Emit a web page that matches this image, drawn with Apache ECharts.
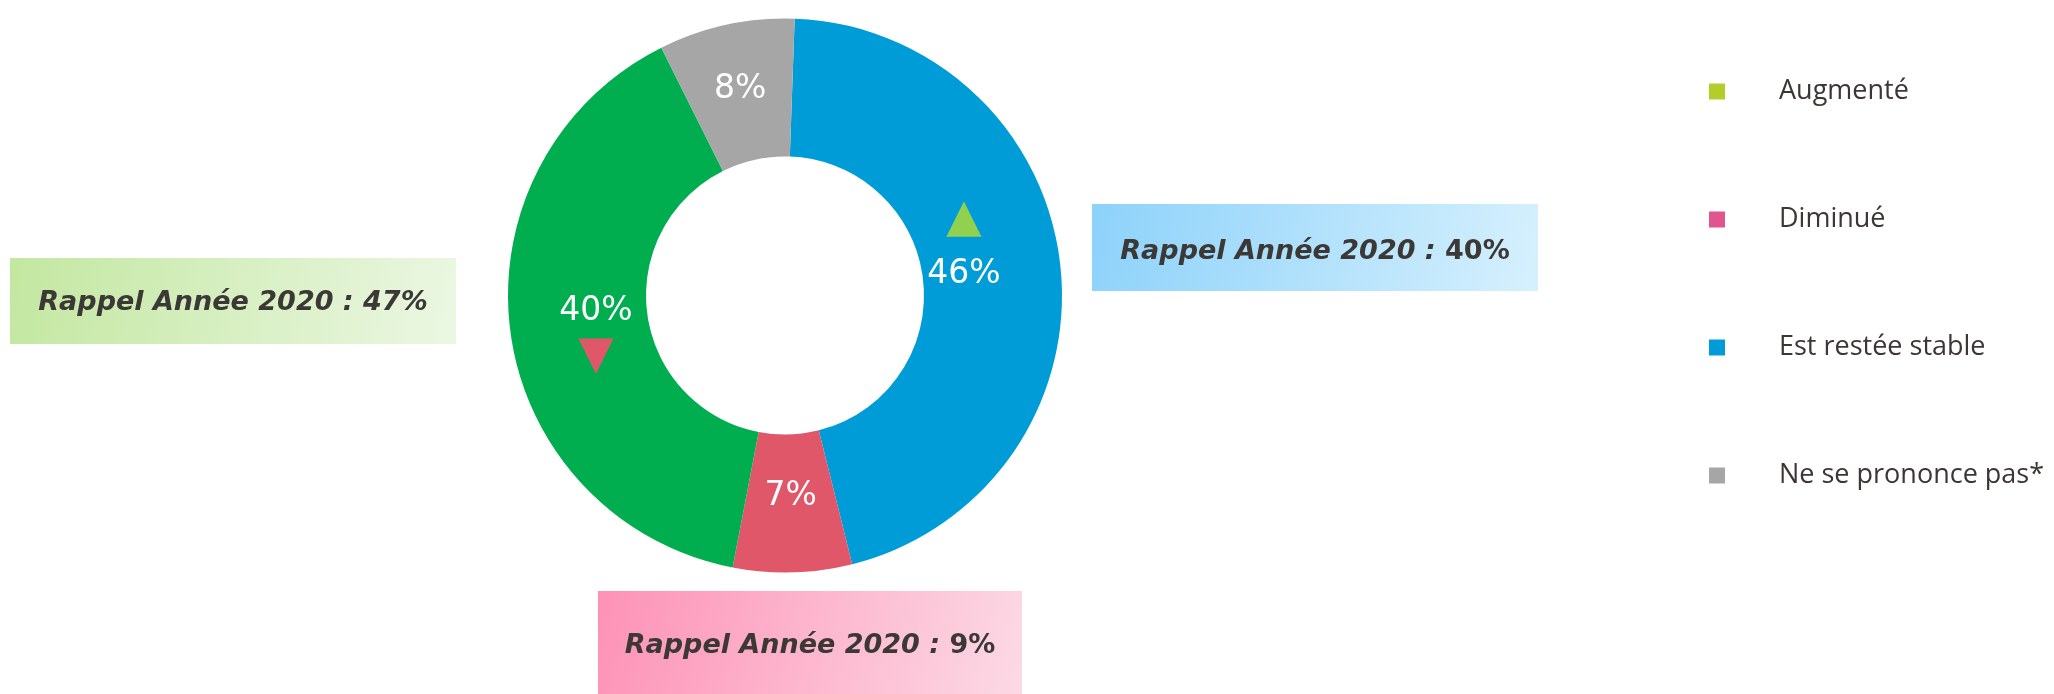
<!DOCTYPE html>
<html style="height: 100%">
<head>
<meta charset="utf-8">
</head>
<body style="height: 100%; margin: 0; background: #ffffff">
<div id="container" style="width: 2054px; height: 694px"></div>
<script type="text/javascript" src="https://cdn.jsdelivr.net/npm/echarts@6/dist/echarts.min.js"></script>
<script type="text/javascript">
// data
var categories = ['Augmenté', 'Diminué', 'Est restée stable', 'Ne se prononce pas*'];
var values2021 = [40, 7, 46, 8];
var recall2020 = [47, 9, 40, null];
var trends = ['down', null, 'up', null];
// order the slices are drawn clockwise from the top
var pieOrder = [2, 1, 0, 3];

var sliceColors = ['#00ae50', '#e05769', '#009cd8', '#a6a6a6'];
var legendColors = ['#b5cd2b', '#e0548f', '#009bd8', '#a6a6a6'];

var dom = document.getElementById('container');
var myChart = echarts.init(dom);

// label nudges per category (dx, dy)
var labelNudge = [[20, 7], [0, -10], [-31, -29], [0, 0]];

var pieData = pieOrder.map(function (i) {
    var txt = '{pct|' + values2021[i] + '%}';
    if (trends[i] == 'up') txt = '{up|▲}\n' + txt;
    if (trends[i] == 'down') txt = txt + '\n{down|▼}';
    return {
        name: categories[i],
        value: values2021[i],
        itemStyle: { color: sliceColors[i] },
        label: { formatter: txt }
    };
});

var legendData = categories.map(function (c, i) {
    return { name: c, itemStyle: { color: legendColors[i] } };
});

// recall boxes
var boxes = [
    { i: 0, x: 10, y: 258, w: 446, h: 86, ty: 303, italicPct: true,
      stops: ['#c3e7a0', '#ebf7e3'] },
    { i: 2, x: 1092, y: 204, w: 446, h: 87, ty: 252, italicPct: false,
      stops: ['#8dd2fa', '#d6f0fd'] },
    { i: 1, x: 598, y: 591, w: 424, h: 110, ty: 646, italicPct: false,
      stops: ['#fd92b6', '#fcdae5'] }
];

var graphics = [];
boxes.forEach(function (b) {
    graphics.push({
        type: 'rect',
        silent: true,
        shape: { x: b.x, y: b.y, width: b.w, height: b.h },
        style: {
            fill: new echarts.graphic.LinearGradient(0, 0, 1, 1, [
                { offset: 0, color: b.stops[0] },
                { offset: 1, color: b.stops[1] }
            ])
        }
    });
    graphics.push({
        type: 'text',
        silent: true,
        x: b.x + b.w / 2,
        y: b.ty,
        style: {
            text: '{a|Rappel Année 2020 : }{b|' + recall2020[b.i] + '%}',
            align: 'center',
            verticalAlign: 'middle',
            rich: {
                a: { fontFamily: 'DejaVu Sans', fontSize: 27, fontWeight: 'bold', fontStyle: 'italic', fill: '#3b3836' },
                b: { fontFamily: 'DejaVu Sans', fontSize: 27, fontWeight: 'bold', fontStyle: b.italicPct ? 'italic' : 'normal', fill: '#3b3836' }
            }
        }
    });
});

option = {
    animation: false,
    legend: {
        orient: 'vertical',
        left: 1709,
        top: 78,
        padding: 0,
        itemWidth: 16,
        itemHeight: 16,
        itemGap: 101,
        icon: 'rect',
        selectedMode: false,
        data: legendData,
        textStyle: {
            fontFamily: 'Open Sans',
            fontSize: 27,
            color: '#3b3734',
            padding: [0, 0, 0, 49]
        }
    },
    graphic: graphics,
    series: [
        {
            type: 'pie',
            center: [785, 295.5],
            radius: [139, 277],
            startAngle: 88,
            clockwise: true,
            avoidLabelOverlap: false,
            silent: true,
            emphasis: { disabled: true },
            labelLine: { show: false },
            label: {
                show: true,
                position: 'inside',
                color: '#ffffff',
                rich: {
                    pct: { fontFamily: 'DejaVu Sans', fontSize: 33, color: '#ffffff', lineHeight: 50 },
                    up: { fontFamily: 'DejaVu Sans', fontSize: 46, color: '#92d050', lineHeight: 60 },
                    down: { fontFamily: 'DejaVu Sans', fontSize: 46, color: '#e05769', lineHeight: 40 }
                }
            },
            labelLayout: function (params) {
                var i = categories.indexOf(pieData[params.dataIndex].name);
                return { dx: labelNudge[i][0], dy: labelNudge[i][1] };
            },
            data: pieData
        }
    ]
};

if (option && typeof option === 'object') {
    myChart.setOption(option, true);
}
</script>
</body>
</html>
